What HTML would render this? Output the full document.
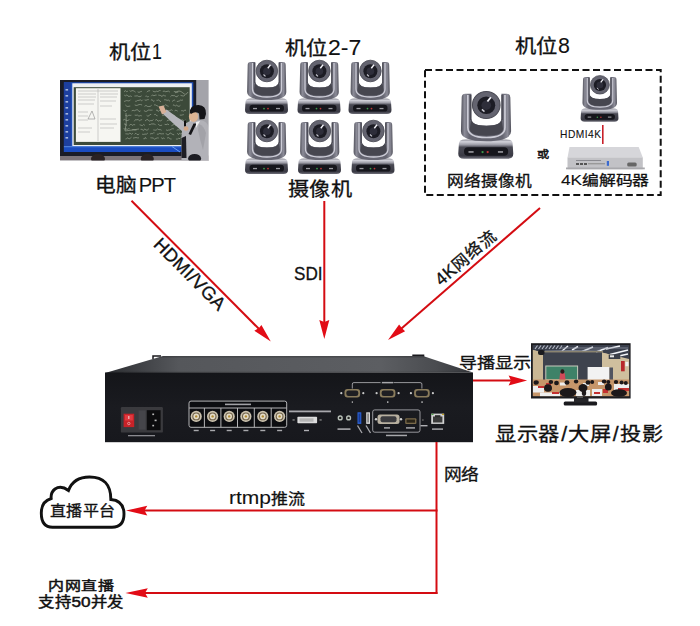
<!DOCTYPE html>
<html lang="zh-CN"><head><meta charset="utf-8">
<style>
html,body{margin:0;padding:0;background:#fff;}
body{width:700px;height:626px;position:relative;overflow:hidden;font-family:"Liberation Sans",sans-serif;color:#111;}
.t{position:absolute;white-space:nowrap;line-height:1;transform-origin:0 0;-webkit-text-stroke:0.3px #111;}
svg{position:absolute;left:0;top:0;}
.l{-webkit-text-stroke:0.1px #111;}
</style></head><body>
<svg width="700" height="626" viewBox="0 0 700 626">
<defs>
  <linearGradient id="armg" x1="0" x2="1" y1="0" y2="0">
    <stop offset="0" stop-color="#50505a"/>
    <stop offset="0.07" stop-color="#8c8c98"/>
    <stop offset="0.17" stop-color="#656571"/>
    <stop offset="0.83" stop-color="#656571"/>
    <stop offset="0.93" stop-color="#8c8c98"/>
    <stop offset="1" stop-color="#50505a"/>
  </linearGradient>
  <linearGradient id="baseg" x1="0" x2="0" y1="0" y2="1">
    <stop offset="0" stop-color="#8a8a94"/>
    <stop offset="0.12" stop-color="#d2d2da"/>
    <stop offset="0.28" stop-color="#9c9ca6"/>
    <stop offset="0.4" stop-color="#4a4a54"/>
    <stop offset="0.85" stop-color="#3a3a44"/>
    <stop offset="1" stop-color="#6e6e78"/>
  </linearGradient>
  <g id="cam">
    <!-- base -->
    <path d="M1,43 Q1,39.5 6,39.5 L38,39.5 Q43,39.5 43,43 L43.5,51 Q43.5,55 39,55 L5,55 Q0.5,55 0.5,51 Z" fill="url(#baseg)"/>
    <rect x="5" y="45.8" width="34.5" height="6.8" rx="3.2" fill="#16161c"/>
    <circle cx="19.5" cy="49.6" r="0.9" fill="#3c9a4c"/>
    <circle cx="23.5" cy="49.6" r="0.9" fill="#c03838"/>
    <rect x="8.5" y="48.9" width="4" height="1.3" fill="#9a9aa0"/>
    <rect x="31.5" y="48.9" width="4" height="1.3" fill="#9a9aa0"/>
    <!-- arms U -->
    <path d="M3.2,6 Q3.2,3 6,3 L10.8,3 L10.8,23 Q10.8,28.5 22.5,28.5 Q34.2,28.5 34.2,23 L34.2,3 L38.5,3 Q41.2,3 41.2,6 L41.8,33 Q41.8,41 22.5,41 Q2.6,41 2.6,33 Z" fill="url(#armg)"/>
    <path d="M10.8,23 Q10.8,28.5 22.5,28.5 Q34.2,28.5 34.2,23 L35.5,31 Q35.5,36.5 22.5,36.5 Q9.5,36.5 9.5,31 Z" fill="#46464f"/>
    <path d="M8,4 L8,30 Q8,38 22.5,38 Q37,38 37,30 L37,4" fill="none" stroke="#cdcdd7" stroke-width="1.3"/>
    <path d="M10.3,4 L10.3,24" stroke="#3c3c46" stroke-width="0.8"/>
    <path d="M34.7,4 L34.7,24" stroke="#3c3c46" stroke-width="0.8"/>
    <!-- ball -->
    <circle cx="22.4" cy="12" r="10.8" fill="#646470"/>
    <circle cx="22.4" cy="12" r="10.8" fill="none" stroke="#4a4a54" stroke-width="0.8"/>
    <circle cx="22.4" cy="12.2" r="7" fill="#1c1c24"/>
    <circle cx="22.4" cy="12.2" r="3.8" fill="#2e2e3a"/>
    <path d="M23.3,9.2 L26,5.8" stroke="#f4f4fa" stroke-width="1.4"/>
    <path d="M19,15.5 L21,17.3" stroke="#d0d0d8" stroke-width="1.1"/>
  </g>
</defs>


<!-- ===== whiteboard photo ===== -->
<clipPath id="wbclip"><rect x="60" y="80" width="149" height="80.6"/></clipPath>
<g id="wb" clip-path="url(#wbclip)">
  <rect x="60" y="80" width="149" height="80.6" fill="#a4a4aa"/>
  <rect x="60" y="155.5" width="149" height="5.1" fill="#7c7478"/>
  <rect x="60" y="80" width="136.2" height="76" fill="#1a1c26"/>
  <rect x="63.9" y="82.2" width="129.4" height="69.8" fill="#1f4fb8"/>
  <rect x="63.9" y="82.2" width="7" height="64" fill="#1d3f9e"/>
  <g fill="#c8d4ec" opacity="0.8">
    <rect x="65.5" y="89" width="2.6" height="1.6"/><rect x="65.5" y="95" width="2.6" height="1.6"/>
    <rect x="65.5" y="101" width="2.6" height="1.6"/><rect x="65.5" y="107" width="2.6" height="1.6"/>
    <rect x="65.5" y="113" width="2.6" height="1.6"/><rect x="65.5" y="119" width="2.6" height="1.6"/>
    <rect x="65.5" y="125" width="2.6" height="1.6"/><rect x="65.5" y="131" width="2.6" height="1.6"/>
    <rect x="65.5" y="137" width="2.6" height="1.6"/>
  </g>
  <rect x="72.3" y="83.3" width="119.5" height="62.7" fill="#eef0f2"/>
  <rect x="73.7" y="87.2" width="116" height="57.8" fill="#3c4a3a"/>
  <rect x="75.9" y="88.2" width="44.6" height="53.7" fill="#f6f6f2"/>
  <g stroke="#b4b4b0" stroke-width="0.6">
    <line x1="78" y1="91" x2="118" y2="91"/><line x1="78" y1="94" x2="96" y2="94"/><line x1="100" y1="94" x2="118" y2="94"/>
    <line x1="78" y1="97" x2="96" y2="97"/><line x1="100" y1="97" x2="117" y2="97"/>
    <line x1="78" y1="100" x2="95" y2="100"/><line x1="100" y1="101" x2="116" y2="101"/>
    <line x1="78" y1="104" x2="94" y2="104"/><line x1="100" y1="106" x2="112" y2="106"/>
    <line x1="78" y1="112" x2="88" y2="112"/><line x1="78" y1="116" x2="88" y2="116"/><line x1="78" y1="120" x2="88" y2="120"/>
    <line x1="100" y1="119" x2="116" y2="119"/><line x1="100" y1="124" x2="117" y2="124"/><line x1="100" y1="128" x2="114" y2="128"/>
    <line x1="78" y1="128" x2="92" y2="128"/><line x1="78" y1="132" x2="90" y2="132"/>
    <line x1="98" y1="89" x2="98" y2="141"/>
  </g>
  <path d="M88,119 L92,111 L95,119 Z" fill="none" stroke="#888" stroke-width="0.6"/>
  <g stroke="#c8d0c0" stroke-width="0.6" fill="none" opacity="0.75">
    <path d="M124.0,91.8 L125.3,90.6 L126.6,91.6 L127.9,91.2 M129.6,90.6 L130.8,91.4 L132.0,90.6 L133.2,90.7 L134.4,91.3 L135.6,92.2 M137.6,91.8 L139.0,92.4 L140.5,91.7 L141.9,91.3 M146.8,92.2 L147.9,91.1 L149.0,90.8 L150.1,90.7 M152.7,90.9 L154.0,91.7 L155.3,91.8 L156.6,91.2 L157.9,91.6 L159.3,90.6 L160.6,90.6 M162.8,91.4 L164.2,91.1 L165.6,91.7 L167.0,91.4 L168.5,91.1 L169.9,92.1 M173.8,91.6 L175.3,91.6 L176.8,92.3 L178.3,92.0 M124.3,95.2 L125.5,95.8 L126.8,94.9 L128.0,96.2 L129.3,96.4 L130.5,96.0 L131.8,96.6 M134.4,96.0 L135.8,96.0 L137.3,95.8 L138.7,96.5 L140.1,96.7 L141.6,95.8 M145.4,96.3 L146.5,96.1 L147.6,96.8 L148.8,96.5 M151.3,96.2 L152.6,94.9 L153.9,95.8 L155.2,95.2 L156.6,95.1 M158.3,95.1 L159.5,95.3 L160.8,95.6 L162.1,96.6 L163.3,95.0 L164.6,95.8 L165.9,96.0 M170.5,96.6 L171.8,95.4 L173.1,95.7 L174.4,95.6 L175.8,96.6 L177.1,96.8 L178.4,95.2 M180.5,95.3 L182.0,95.8 L183.4,96.0 L184.9,95.4 M124.1,101.5 L125.4,101.0 L126.7,100.6 L127.9,100.8 L129.2,101.0 L130.5,99.7 M135.2,101.3 L136.4,101.2 L137.7,100.4 L139.0,100.4 L140.3,99.8 L141.6,100.9 L142.8,99.7 M144.6,99.9 L146.0,100.3 L147.4,99.7 L148.8,99.6 M150.9,100.3 L152.1,99.6 L153.3,101.3 L154.5,100.8 M156.5,100.3 L157.6,100.3 L158.7,99.8 L159.9,101.3 L161.0,101.6 M164.1,99.8 L165.6,99.8 L167.1,100.3 L168.6,100.1 L170.0,101.3 M172.1,101.5 L173.1,100.7 L174.2,99.9 L175.2,100.7 M176.8,101.6 L178.1,101.3 L179.3,101.0 L180.5,100.1 L181.8,100.3 L183.0,99.9 M125.3,104.9 L126.6,106.1 L127.8,106.5 L129.1,106.2 L130.3,106.1 M134.7,104.9 L136.2,105.5 L137.7,105.2 L139.1,104.5 L140.6,104.5 L142.1,105.0 M144.5,106.4 L146.0,105.4 L147.4,106.4 L148.8,106.5 L150.2,106.4 L151.7,105.2 M154.0,104.9 L155.4,104.9 L156.9,105.7 L158.3,106.3 M162.8,105.8 L164.2,106.1 L165.7,104.7 L167.2,105.8 L168.6,106.3 M172.9,105.4 L174.1,104.8 L175.4,106.1 L176.6,105.2 L177.9,106.1 L179.1,106.4 L180.4,105.3 M123.5,109.9 L124.8,111.4 L126.0,111.2 L127.3,109.9 M131.7,110.9 L133.1,110.3 L134.6,110.7 L136.1,109.9 L137.6,109.7 L139.1,111.6 L140.5,110.9 M143.9,110.5 L145.3,111.4 L146.8,111.3 L148.2,110.1 L149.6,110.1 L151.1,110.2 L152.5,110.1 M156.0,110.5 L157.2,109.9 L158.3,111.5 L159.5,110.3 L160.6,110.5 M164.1,110.5 L165.5,111.5 L167.0,110.6 L168.4,110.7 L169.8,110.7 L171.2,109.7 L172.6,110.5 M174.7,111.2 L175.7,110.0 L176.7,110.6 L177.7,111.1 M181.2,110.7 L182.4,110.7 L183.7,111.2 L184.9,109.8 L186.1,110.8 M125.3,115.3 L126.5,115.7 L127.7,116.0 L128.9,115.1 L130.2,115.4 L131.4,115.2 M134.7,115.1 L136.1,115.3 L137.5,115.1 L138.9,116.1 L140.4,115.6 L141.8,115.9 M146.6,115.3 L147.7,116.1 L148.9,115.9 L150.0,114.5 L151.2,114.4 M154.2,114.7 L155.4,114.3 L156.5,115.5 L157.6,115.8 M162.3,115.6 L163.6,115.5 L164.9,114.5 L166.2,116.0 M171.1,116.1 L172.5,115.0 L174.0,115.2 L175.4,116.2 M179.8,115.1 L181.2,115.2 L182.5,114.9 L183.8,114.6 M123.1,120.2 L124.3,119.4 L125.6,120.0 L126.9,120.6 L128.1,120.4 L129.4,119.5 M134.3,121.3 L135.6,119.5 L136.9,119.9 L138.2,119.4 L139.5,120.9 L140.8,119.9 L142.1,119.6 M145.0,121.0 L146.5,119.8 L147.9,119.6 L149.3,121.2 L150.7,120.5 L152.1,120.7 L153.5,119.5 M155.2,120.2 L156.6,119.5 L158.1,121.2 L159.5,120.6 L160.9,120.9 L162.3,119.5 M166.8,121.1 L168.0,120.2 L169.1,120.0 L170.2,120.4 M175.0,119.6 L176.1,120.4 L177.3,119.8 L178.4,119.6 L179.6,119.7 M181.3,120.0 L182.7,119.9 L184.1,120.9 L185.5,119.9 M124.0,124.3 L125.1,123.8 L126.1,125.2 L127.1,124.9 M129.3,125.6 L130.8,124.0 L132.2,125.4 L133.7,124.6 L135.2,124.8 M139.6,124.8 L140.9,125.1 L142.3,125.7 L143.6,124.4 L144.9,125.4 M148.9,124.6 L150.3,124.5 L151.6,123.9 L153.0,124.0 L154.4,123.9 L155.7,125.2 M158.1,123.9 L159.5,125.4 L160.8,125.5 L162.1,125.1 M164.6,124.3 L166.1,124.7 L167.6,124.1 L169.0,124.7 M171.5,125.7 L172.9,124.9 L174.4,124.3 L175.9,125.7 L177.3,124.4 L178.8,124.5 L180.2,123.8 M123.6,128.6 L124.8,129.1 L126.0,128.8 L127.2,129.4 L128.4,128.7 L129.6,128.7 M132.2,129.8 L133.7,129.7 L135.1,130.1 L136.6,129.9 M140.6,129.4 L142.0,129.3 L143.4,130.6 L144.7,128.9 L146.1,130.1 L147.5,129.9 L148.9,128.7 M153.3,129.9 L154.7,130.1 L156.1,130.2 L157.5,128.9 L158.9,129.7 L160.3,129.6 L161.6,130.3 M166.0,129.8 L167.3,130.4 L168.6,130.0 L169.9,130.0 L171.3,129.1 L172.6,128.7 L173.9,128.9 M176.7,130.3 L177.9,129.7 L179.1,129.9 L180.3,129.9 M125.4,133.8 L126.9,133.9 L128.4,134.1 L129.9,133.0 L131.4,134.3 L132.9,133.3 M134.6,134.3 L135.8,133.2 L136.9,134.3 L138.1,134.8 L139.2,133.8 M142.1,134.2 L143.5,134.4 L145.0,134.1 L146.5,134.1 L147.9,133.0 M150.0,134.3 L151.1,133.4 L152.2,134.0 L153.4,132.8 L154.5,132.9 M156.9,134.2 L158.3,134.2 L159.7,133.4 L161.1,133.9 L162.6,133.8 L164.0,133.8 M165.9,133.2 L167.3,134.8 L168.7,134.7 L170.1,132.9 L171.5,133.7 L172.8,134.5 L174.2,134.8 M177.3,133.2 L178.5,134.7 L179.6,133.2 L180.8,134.0 L181.9,133.1 M125.5,139.0 L126.7,138.6 L127.9,137.7 L129.1,139.0 L130.3,138.2 L131.5,137.2 M133.0,138.1 L134.5,137.8 L136.0,137.5 L137.5,137.9 L139.0,137.8 M143.4,138.7 L144.4,138.9 L145.4,137.4 L146.4,139.0 M150.4,137.8 L151.8,137.9 L153.2,138.0 L154.6,139.2 L156.0,138.4 L157.4,137.9 L158.8,138.0 M161.3,137.4 L162.4,138.9 L163.5,137.8 L164.6,139.1 M167.0,138.2 L168.1,137.6 L169.3,137.9 L170.4,139.1 L171.6,139.0 M175.9,139.0 L177.3,139.1 L178.6,138.3 L180.0,138.6 L181.3,137.3 L182.7,138.7"/>
    <path d="M175,93 q4,-4 8,0 q3,3 5,-1"/>
    <path d="M126,113 q1,10 -1,18 m0,0 l14,-2"/>
  </g>
  <rect x="63.9" y="146.2" width="129.4" height="5.8" fill="#1a4cc0"/>
  <rect x="63.9" y="146.2" width="129.4" height="1" fill="#5a8ae0"/>
  <path d="M172,146.5 L180,152" stroke="#6aa0f0" stroke-width="1"/>
  <!-- teacher -->
  <path d="M181.5,160.6 L181.5,136 Q182,124 189,121.5 L200,120 Q208,121 208.6,128 L208.6,160.6 Z" fill="#b2b2b8"/>
  <path d="M199,124 Q204,126 206,133 L203,150 Q200,140 198,130 Z" fill="#a2a2a8"/>
  <path d="M187,123.5 Q176,117 166.5,109.5 L162.5,113.5 Q172,122.5 183,132 Z" fill="#b6b6bc"/>
  <path d="M181.5,138 L186,136 L186.5,158 L181.5,158 Z" fill="#1e1e24"/>
  <path d="M193.5,123.5 L196.5,123.5 L191,135 L188.5,134 Z" fill="#151518"/>
  <path d="M196,122 L200,121 L196,128 Z" fill="#f0f0f0"/>
  <rect x="184" y="120.5" width="2" height="6" fill="#111"/>
  <ellipse cx="186" cy="128.5" rx="2.5" ry="2.2" fill="#d4a888"/>
  <path d="M158.5,106.5 L163.5,105.5 L166.5,112 L162,114.5 Z" fill="#d8b098"/>
  <ellipse cx="193.5" cy="116.5" rx="4.6" ry="5.4" fill="#dcb494"/>
  <path d="M190,113 Q189.5,104.8 198.5,105 Q206.5,105.6 206,114 L204.5,119 L199.5,119.5 L199,113.5 Q195,111 191,114 Z" fill="#141418"/>
  <!-- heads -->
  <ellipse cx="98" cy="158.8" rx="7" ry="4.8" fill="#2a2224"/>
  <ellipse cx="147.3" cy="158.8" rx="6.5" ry="4.8" fill="#2a2224"/>
  <ellipse cx="194.6" cy="158.6" rx="6.5" ry="4.6" fill="#1c1c22"/>
  <rect x="208.6" y="80" width="1" height="80.6" fill="#fff"/>
</g>

<!-- ===== cameras 2-7 ===== -->
<use href="#cam" x="244.5" y="59"/>
<use href="#cam" x="297" y="59"/>
<use href="#cam" x="348" y="59"/>
<use href="#cam" x="244.5" y="119"/>
<use href="#cam" x="297.5" y="119"/>
<use href="#cam" x="351" y="119"/>
<!-- big camera 8 -->
<use href="#cam" transform="translate(457.6,90) scale(1.28,1.25)"/>
<!-- small camera -->
<use href="#cam" transform="translate(580.2,74.5) scale(0.88,0.86)"/>

<!-- dashed box -->
<rect x="425" y="70" width="235.7" height="124.9" fill="none" stroke="#111" stroke-width="2" stroke-dasharray="7 3.5"/>

<!-- HDMI4K line -->
<line x1="602.8" y1="125" x2="602.8" y2="144" stroke="#c8202a" stroke-width="1.6"/>

<!-- encoder box -->
<g>
  <polygon points="569.5,147 638.7,147 642.8,157.4 567.5,157.4" fill="#d6d6da"/>
  <rect x="567.5" y="157.4" width="75.3" height="11.8" fill="#c2c2c6"/>
  <rect x="566" y="167.5" width="78.8" height="1.8" fill="#a8a8ac"/>
  <rect x="576" y="160" width="25" height="1" fill="#8a8a90"/>
  <rect x="576" y="163" width="3" height="2" fill="#555"/>
  <rect x="580" y="163" width="3" height="2" fill="#555"/>
  <rect x="584" y="163" width="3" height="2" fill="#555"/>
  <rect x="588" y="163" width="17" height="1.4" fill="#999"/>
  <rect x="606.8" y="161" width="2.2" height="4.8" fill="#3a6ad0"/>
  <rect x="627.2" y="162.4" width="9.5" height="4.1" rx="1.5" fill="#666"/>
</g>


<!-- ===== device ===== -->
<g id="dev">
  <linearGradient id="topg" x1="0" x2="1" y1="0" y2="0">
    <stop offset="0" stop-color="#2c2e32"/>
    <stop offset="0.2" stop-color="#55575b"/>
    <stop offset="0.75" stop-color="#5c5e62"/>
    <stop offset="0.9" stop-color="#4a4c50"/>
    <stop offset="1" stop-color="#34363a"/>
  </linearGradient>
  <linearGradient id="topv" x1="0" x2="0" y1="0" y2="1">
    <stop offset="0" stop-color="#000" stop-opacity="0.25"/>
    <stop offset="0.15" stop-color="#000" stop-opacity="0"/>
    <stop offset="0.85" stop-color="#000" stop-opacity="0"/>
    <stop offset="1" stop-color="#000" stop-opacity="0.15"/>
  </linearGradient>
  <linearGradient id="frontg" x1="0" x2="0" y1="0" y2="1">
    <stop offset="0" stop-color="#141519"/>
    <stop offset="0.5" stop-color="#1a1b20"/>
    <stop offset="1" stop-color="#17181d"/>
  </linearGradient>
  <path d="M153,359 L153,356 L161,356" fill="none" stroke="#1a1a1e" stroke-width="1.5"/>
  <path d="M413,359 L413,355.3 L423.6,355.3 L423.6,358" fill="none" stroke="#1a1a1e" stroke-width="1.4"/>
  <polygon points="163,356 422.9,356 473,372.5 105.2,373" fill="url(#topg)"/>
  <polygon points="163,356 422.9,356 473,372.5 105.2,373" fill="url(#topv)"/>
  <rect x="105" y="372.5" width="368" height="69.7" fill="url(#frontg)"/>
  <!-- power -->
  <rect x="120.9" y="407.1" width="42" height="25.5" rx="1.2" fill="#3a3a3e"/>
  <rect x="123.6" y="413.7" width="10.6" height="13.4" fill="#c82228"/>
  <rect x="125" y="415" width="7.8" height="5.5" fill="#e03a40"/>
  <rect x="128.2" y="416" width="1.2" height="3" fill="#f0c0c0"/>
  <circle cx="128.8" cy="423.5" r="1.2" fill="none" stroke="#f0c0c0" stroke-width="0.7"/>
  <rect x="138.6" y="410.5" width="7" height="19" fill="#45454a"/>
  <rect x="146.8" y="410.2" width="13.8" height="20" fill="#0c0c0e"/>
  <g fill="#b8b8b8"><rect x="152.3" y="413.5" width="1.8" height="1.6"/><rect x="154.6" y="419.6" width="2" height="1.6"/><rect x="152.3" y="424.8" width="1.8" height="1.6"/></g>
  <rect x="128" y="435" width="27" height="1.3" fill="#8a8a90"/>
  <!-- BNC panel -->
  <rect x="189" y="401.1" width="97.7" height="25.8" rx="2" fill="#0c0d10"/>
  <g fill="none" stroke="#b4b4b6" stroke-width="1">
    <rect x="189" y="401.1" width="97.7" height="26.2" rx="2"/>
    <line x1="189" y1="408" x2="286.7" y2="408"/>
    <line x1="204.4" y1="408" x2="204.4" y2="427.3"/>
    <line x1="220.9" y1="408" x2="220.9" y2="427.3"/>
    <line x1="237.5" y1="408" x2="237.5" y2="427.3"/>
    <line x1="254.3" y1="408" x2="254.3" y2="427.3"/>
    <line x1="271.2" y1="408" x2="271.2" y2="427.3"/>
  </g>
  <rect x="225" y="403.6" width="26" height="1.6" fill="#c8c8cc" opacity="0.8"/>
  <circle cx="196.2" cy="416.4" r="5.6" fill="#cbc2ae"/><circle cx="196.2" cy="416.4" r="3.9" fill="#6e6048"/><circle cx="196.2" cy="416.4" r="2.8" fill="#e4dcc8"/><circle cx="196.2" cy="416.4" r="1.2" fill="#b08a30"/>
  <circle cx="212.6" cy="416.4" r="5.6" fill="#cbc2ae"/><circle cx="212.6" cy="416.4" r="3.9" fill="#6e6048"/><circle cx="212.6" cy="416.4" r="2.8" fill="#e4dcc8"/><circle cx="212.6" cy="416.4" r="1.2" fill="#b08a30"/>
  <circle cx="229.2" cy="416.4" r="5.6" fill="#cbc2ae"/><circle cx="229.2" cy="416.4" r="3.9" fill="#6e6048"/><circle cx="229.2" cy="416.4" r="2.8" fill="#e4dcc8"/><circle cx="229.2" cy="416.4" r="1.2" fill="#b08a30"/>
  <circle cx="245.9" cy="416.4" r="5.6" fill="#cbc2ae"/><circle cx="245.9" cy="416.4" r="3.9" fill="#6e6048"/><circle cx="245.9" cy="416.4" r="2.8" fill="#e4dcc8"/><circle cx="245.9" cy="416.4" r="1.2" fill="#b08a30"/>
  <circle cx="262.8" cy="416.4" r="5.6" fill="#cbc2ae"/><circle cx="262.8" cy="416.4" r="3.9" fill="#6e6048"/><circle cx="262.8" cy="416.4" r="2.8" fill="#e4dcc8"/><circle cx="262.8" cy="416.4" r="1.2" fill="#b08a30"/>
  <circle cx="279.6" cy="416.4" r="5.6" fill="#cbc2ae"/><circle cx="279.6" cy="416.4" r="3.9" fill="#6e6048"/><circle cx="279.6" cy="416.4" r="2.8" fill="#e4dcc8"/><circle cx="279.6" cy="416.4" r="1.2" fill="#b08a30"/>
  <g fill="#a8a8ac">
    <rect x="193.7" y="429.8" width="5" height="1.4"/>    <rect x="210.1" y="429.8" width="5" height="1.4"/>    <rect x="226.7" y="429.8" width="5" height="1.4"/>    <rect x="243.4" y="429.8" width="5" height="1.4"/>    <rect x="260.3" y="429.8" width="5" height="1.4"/>    <rect x="277.1" y="429.8" width="5" height="1.4"/>
  </g>
  <!-- DVI -->
  <rect x="289" y="410.5" width="42" height="1.8" fill="#b8b8bc" opacity="0.9"/>
  <rect x="297.4" y="416.8" width="19.7" height="6.4" rx="0.8" fill="#dcdcdc"/>
  <rect x="299.5" y="418.3" width="14" height="3.4" fill="#b4b4b4"/>
  <rect x="292.5" y="419.3" width="2.2" height="1.3" fill="#888"/>
  <rect x="319.5" y="419.3" width="2.2" height="1.3" fill="#888"/>
  <rect x="304" y="429.8" width="5" height="1.4" fill="#b0b0b4"/>
  <!-- RS232 -->
  <path d="M352.3,388.6 L352.3,384 Q352.3,382.6 354,382.6 L420,382.6 Q421.9,382.6 421.9,384 L421.9,388.6" fill="none" stroke="#b8b8bc" stroke-width="0.8"/>
  <rect x="380.5" y="381.8" width="13" height="1.6" fill="#2a2c30"/>
  <rect x="382" y="381.9" width="11" height="1.4" fill="#a8a8ac"/>
  <g>
    <rect x="344.5" y="389" width="15.6" height="8.4" rx="3" fill="#8a7c5c"/>
    <rect x="346.3" y="390.5" width="12" height="5.4" rx="2.2" fill="#1e1e22"/>
    <rect x="379.8" y="389" width="15.6" height="8.4" rx="3" fill="#8a7c5c"/>
    <rect x="381.6" y="390.5" width="12" height="5.4" rx="2.2" fill="#1e1e22"/>
    <rect x="414.1" y="389" width="15.6" height="8.4" rx="3" fill="#8a7c5c"/>
    <rect x="415.9" y="390.5" width="12" height="5.4" rx="2.2" fill="#1e1e22"/>
  </g>
  <g fill="#c8c8c8">
    <circle cx="341.3" cy="393.2" r="1.1"/><circle cx="363.3" cy="393.2" r="1.1"/>
    <circle cx="376.6" cy="393.2" r="1.1"/><circle cx="398.6" cy="393.2" r="1.1"/>
    <circle cx="410.9" cy="393.2" r="1.1"/><circle cx="432.9" cy="393.2" r="1.1"/>
    <rect x="351.8" y="401.3" width="1" height="1.6"/><rect x="387.1" y="401.3" width="1.3" height="1.6"/><rect x="421.4" y="401.3" width="1.3" height="1.6"/>
  </g>
  <!-- audio -->
  <circle cx="340.2" cy="417.9" r="2.6" fill="#b8c0b8"/><circle cx="340.2" cy="417.9" r="1.2" fill="#222"/>
  <circle cx="348.6" cy="417.9" r="2.6" fill="#b8c0b8"/><circle cx="348.6" cy="417.9" r="1.2" fill="#222"/>
  <rect x="337.5" y="428.3" width="13" height="1.6" fill="#a8a8ac"/>
  <!-- USB -->
  <rect x="357.5" y="412.3" width="3.8" height="11.6" fill="#2a62d8"/>
  <rect x="358.5" y="413.5" width="1.8" height="9" fill="#1a3a90"/>
  <rect x="366.2" y="412.3" width="3.8" height="11.6" fill="#d8d8d8"/>
  <rect x="367.2" y="413.5" width="1.8" height="9" fill="#888"/>
  <path d="M357.5,425.5 L362,433" stroke="#a8a8ac" stroke-width="1.3"/>
  <path d="M366,425.5 L370.5,433" stroke="#a8a8ac" stroke-width="1.3"/>
  <!-- video out -->
  <rect x="372.7" y="409.9" width="47.3" height="22.3" rx="2" fill="none" stroke="#b8b8bc" stroke-width="0.8"/>
  <rect x="377.5" y="414.6" width="22" height="9.3" rx="2.5" fill="#b8b0a0"/>
  <rect x="380.5" y="416.3" width="16" height="5.9" rx="2" fill="#3a3a3e"/>
  <circle cx="376" cy="419.2" r="1.2" fill="#d0d0d0"/><circle cx="401" cy="419.2" r="1.2" fill="#d0d0d0"/>
  <rect x="405.2" y="418.3" width="11.2" height="5.6" rx="1" fill="#7a6a4a"/>
  <rect x="406.5" y="419.5" width="8.6" height="3.2" fill="#2a2418"/>
  <rect x="384" y="427.2" width="6" height="1.4" fill="#b0b0b4"/>
  <rect x="406" y="427.2" width="9" height="1.4" fill="#b0b0b4"/>
  <rect x="386" y="434.7" width="21" height="1.5" fill="#a8a8ac"/>
  <!-- reset / ethernet -->
  <circle cx="422.9" cy="420.1" r="1" fill="#555"/>
  <rect x="420.5" y="425" width="7" height="1.4" fill="#b0b0b4"/>
  <rect x="431.2" y="413.6" width="13" height="10.3" fill="#d0d0d0"/>
  <rect x="433" y="416.5" width="9.4" height="6" fill="#3a3a3a"/>
  <rect x="435" y="415.2" width="5.4" height="2" fill="#2a2a2a"/>
  <rect x="431.5" y="413.8" width="2" height="1.2" fill="#4aa040"/><rect x="442" y="413.8" width="2" height="1.2" fill="#c0a020"/>
  <rect x="432" y="428.4" width="11" height="1.4" fill="#b0b0b4"/>
</g>

<!-- ===== monitor ===== -->
<g id="mon">
  <rect x="563.7" y="401.6" width="33.4" height="3.8" rx="1.5" fill="#1a1a1e"/>
  <rect x="574" y="398" width="14.5" height="4.5" fill="#26262a"/>
  <rect x="531" y="343.2" width="99.6" height="55.3" fill="#1c1c20"/>
  <rect x="532.9" y="345.1" width="96.2" height="51" fill="#c8b898"/>
  <!-- ceiling -->
  <polygon points="532.9,345.1 629.1,345.1 629.1,360 602,352.5 543,352.5 532.9,350" fill="#3a3f4c"/>
  <g stroke="#b8bcc8" stroke-width="1.1">
    <line x1="535" y1="349" x2="537.5" y2="345.5"/><line x1="538.5" y1="349" x2="541" y2="345.5"/><line x1="542" y1="349" x2="544.5" y2="345.5"/>
    <line x1="545.5" y1="349" x2="548" y2="345.5"/><line x1="549" y1="349" x2="551.5" y2="345.5"/><line x1="552.5" y1="349" x2="555" y2="345.5"/>
    <line x1="556" y1="349" x2="558.5" y2="345.5"/><line x1="559.5" y1="349" x2="562" y2="345.5"/>
  </g>
  <g stroke="#f4f6fa" stroke-width="1.5">
    <line x1="562" y1="351" x2="568" y2="346"/><line x1="572" y1="350" x2="578" y2="346.5"/><line x1="582" y1="351.5" x2="593" y2="347"/>
    <line x1="596" y1="352" x2="608" y2="347.5"/><line x1="606" y1="349" x2="620" y2="346"/><line x1="610" y1="354.5" x2="628" y2="350"/>
    <line x1="612" y1="357.5" x2="628" y2="354"/>
  </g>
  <g stroke="#8a90a0" stroke-width="0.8">
    <line x1="560" y1="348" x2="628" y2="348"/><line x1="545" y1="351" x2="600" y2="350"/>
  </g>
  <rect x="543" y="351" width="60" height="1.3" fill="#8a8470"/>
  <!-- back wall -->
  <rect x="543" y="352.5" width="59" height="28" fill="#3e434e"/>
  <polygon points="602,352.5 629.1,359 629.1,386 602,381" fill="#cfbf9e"/>
  <polygon points="532.9,350 543,352.5 543,382 532.9,384" fill="#c9b794"/>
  <rect x="538" y="350" width="6.5" height="5" rx="2" fill="#1a1a1e"/>
  <rect x="608.7" y="354.5" width="11.6" height="4.5" fill="#3a3e48"/>
  <rect x="610" y="355.3" width="4" height="2" fill="#e8e8e8"/>
  <rect x="621" y="361" width="3.7" height="10.3" fill="#b8282c"/>
  <rect x="625.4" y="361.9" width="3" height="4.3" fill="#f0f0f0"/>
  <!-- chalkboard -->
  <rect x="545.3" y="365.5" width="32.8" height="14.5" fill="#c8cabc"/>
  <rect x="546.3" y="366.5" width="30.8" height="12.8" fill="#3e8268"/>
  <!-- screen -->
  <rect x="587.6" y="367" width="21.8" height="13" fill="#f2f2f2"/>
  <rect x="609.4" y="367.5" width="3.6" height="12.5" fill="#505460"/>
  <!-- teacher -->
  <path d="M559,383.5 L560,373.5 Q562.4,371 564.8,373.5 L566,383.5 Z" fill="#d04a58"/>
  <ellipse cx="562.4" cy="371.5" rx="2" ry="2.2" fill="#2a1a1a"/>
  <!-- floor & students -->
  <rect x="532.9" y="379.5" width="96.2" height="16.6" fill="#c6966a"/>
  <g fill="#eeeeee">
    <rect x="533" y="386" width="11" height="6.5"/><rect x="540" y="392.5" width="20" height="3.6"/>
    <rect x="576" y="390" width="14" height="6"/><rect x="592" y="389" width="10" height="7"/>
    <rect x="614" y="384" width="15" height="6"/><rect x="560" y="382.5" width="6" height="3"/>
    <rect x="583" y="383" width="6" height="3"/><rect x="598" y="382" width="6" height="3"/>
  </g>
  <g fill="#c43030">
    <rect x="538" y="386" width="6" height="2"/><rect x="552" y="392" width="7" height="2"/><rect x="594" y="392" width="6" height="2"/>
    <rect x="603" y="389" width="5" height="4"/><rect x="618" y="388" width="11" height="3"/><rect x="546" y="383" width="5" height="2"/>
  </g>
  <g fill="#1c181a">
    <ellipse cx="536.2" cy="382.5" rx="2.6" ry="2.3"/><ellipse cx="550.9" cy="382" rx="2.3" ry="2.1"/><ellipse cx="556.5" cy="383" rx="2.4" ry="2.2"/>
    <ellipse cx="567" cy="382.5" rx="2.5" ry="2.3"/><ellipse cx="576.1" cy="381.5" rx="2.2" ry="2"/><ellipse cx="588" cy="382.5" rx="2.4" ry="2.2"/>
    <ellipse cx="592.2" cy="382" rx="2" ry="1.9"/><ellipse cx="604.1" cy="381.5" rx="2.3" ry="2.1"/><ellipse cx="608.3" cy="382" rx="2" ry="1.9"/>
    <ellipse cx="616" cy="382" rx="2.2" ry="2"/><ellipse cx="621.6" cy="382.5" rx="2" ry="1.9"/><ellipse cx="625.8" cy="383" rx="2" ry="1.9"/>
    <ellipse cx="548" cy="388" rx="4" ry="3.8"/><ellipse cx="568" cy="392.5" rx="8.5" ry="4.5"/><ellipse cx="583" cy="388" rx="4.5" ry="4"/>
    <ellipse cx="608.3" cy="387" rx="3.4" ry="3.5"/><ellipse cx="619" cy="393" rx="8" ry="3.8"/><ellipse cx="584" cy="393" rx="2.2" ry="3"/>
  </g>
  <rect x="577" y="396.6" width="6" height="1" fill="#777"/>
</g>

<!-- ===== arrows ===== -->
<g stroke="#d40c12" stroke-width="2" fill="none">
  <line x1="131.5" y1="200.7" x2="262" y2="332"/>
  <line x1="324.3" y1="201" x2="324.3" y2="322"/>
  <line x1="540" y1="208" x2="398" y2="331.5"/>
  <line x1="473" y1="380.4" x2="512" y2="380.4"/>
  <line x1="436.5" y1="442" x2="436.5" y2="594"/>
  <line x1="437.5" y1="510.6" x2="142" y2="510.6"/>
  <line x1="437.5" y1="593" x2="142" y2="593"/>
</g>
<g fill="#e20c16">
  <polygon points="270.8,341.4 254.3,330.7 259,328 261.4,325"/>
  <polygon points="324.3,339 319.3,320 324.3,322 329.3,320"/>
  <polygon points="388,339.9 399.1,324.4 402,328.3 405.1,331.3"/>
  <polygon points="527.1,380.4 508.6,375.4 511,380.4 508.6,385.4"/>
  <polygon points="126,510.6 147.3,505.8 144.5,510.6 147.3,515.4"/>
  <polygon points="125.4,593 147.8,588.3 145,593 147.8,597.7"/>
</g>

<!-- cloud -->
<path d="M52.5,527.2 L112,527.2 Q124,527.2 124,514 Q124,500.5 110.8,499.5 Q111,477 89.5,477 Q73.5,477 68.5,490.5 Q61,485 55,489 Q50.5,492.5 51.2,498.5 Q41.3,501.5 41.3,513 Q41.3,527.2 52.5,527.2 Z" fill="#fff" stroke="#111" stroke-width="2.9"/>
</svg>

<!--TEXT-->
<div class="t" style="left:108.90px;top:41.50px;font-size:19.84px;transform:scale(1.074,1.000);">机位<span class="l" style="display:inline-block;transform-origin:0 0;font-size:1.08em;transform:scaleX(0.77)">1</span></div>
<div class="t" style="left:284.70px;top:38.40px;font-size:19.84px;transform:scale(1.074,1.000);">机位<span class="l" style="font-size:1.08em">2-7</span></div>
<div class="t" style="left:515.00px;top:36.10px;font-size:19.84px;transform:scale(1.074,1.000);">机位<span class="l" style="display:inline-block;transform-origin:0 0;font-size:1.08em;transform:scaleX(0.93)">8</span></div>
<div class="t" style="left:95.20px;top:175.10px;font-size:18.92px;transform:scale(1.095,1.000);">电脑<span class="l" style="display:inline-block;transform-origin:0 0;font-size:1.08em;letter-spacing:-1px;margin-left:1.8px;transform:scaleX(0.9)">PPT</span></div>
<div class="t" style="left:288.40px;top:180.20px;font-size:19.81px;transform:scale(1.069,1.000);">摄像机</div>
<div class="t" style="left:446.90px;top:174.10px;font-size:14.72px;transform:scale(1.136,1.000);">网络摄像机</div>
<div class="t" style="left:537.10px;top:150.00px;font-size:10.25px;transform:scale(1.186,1.000);"><span style="-webkit-text-stroke:0.45px #111">或</span></div>
<div class="t" style="left:559.90px;top:130.10px;font-size:10.48px;transform:scale(0.978,1.000);"><span style="-webkit-text-stroke:0.1px #111;letter-spacing:0.5px">HDMI4K</span></div>
<div class="t" style="left:560.80px;top:173.20px;font-size:14.02px;transform:scale(1.197,1.000);"><span class="l" style="font-size:1.03em">4K</span>编解码器</div>
<div class="t" style="left:293.80px;top:264.90px;font-size:18.44px;transform:scale(0.929,1.000);">SDI</div>
<div class="t" style="left:459.00px;top:354.90px;font-size:15.24px;transform:scale(1.193,1.000);">导播显示</div>
<div class="t" style="left:495.10px;top:424.90px;font-size:19.54px;transform:scale(1.087,1.000);">显示器<span style="margin:0 1px">/</span>大屏<span style="margin:0 1px">/</span>投影</div>
<div class="t" style="left:443.50px;top:466.40px;font-size:16.36px;transform:scale(1.085,1.000);">网络</div>
<div class="t" style="left:229.10px;top:488.60px;font-size:15.00px;transform:scale(1.129,1.000);"><span class="l" style="font-size:1.24em;letter-spacing:0px">rtmp</span>推流</div>
<div class="t" style="left:50.00px;top:504.00px;font-size:14.67px;transform:scale(1.089,1.000);">直播平台</div>
<div class="t" style="left:47.90px;top:580.20px;font-size:12.55px;transform:scale(1.273,1.000);"><span style="-webkit-text-stroke:0.45px #111">内网直播</span></div>
<div class="t" style="left:37.80px;top:593.70px;font-size:14.61px;transform:scale(1.117,1.000);"><span style="-webkit-text-stroke:0.45px #111">支持<span class="l" style="font-size:1.05em;-webkit-text-stroke:0.5px #111">50</span>并发</span></div>
<!--/TEXT-->
<div class="t r" style="left:163.3px;top:234.6px;font-size:18.4px;letter-spacing:0.3px;transform:rotate(45deg)">HDMI/VGA</div>
<div class="t r" style="left:432.3px;top:275.9px;font-size:16.5px;letter-spacing:0.5px;transform:rotate(-41deg)"><span style="font-size:1.07em">4K</span>网络流</div>
</body></html>
